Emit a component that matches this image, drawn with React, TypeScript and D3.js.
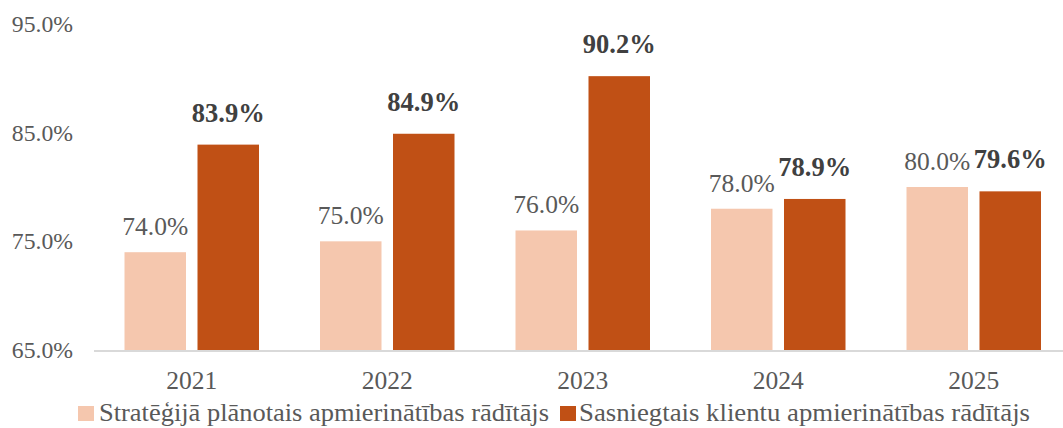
import React from "react";
import * as d3 from "d3";

const years = ["2021", "2022", "2023", "2024", "2025"];
const planned = [74.0, 75.0, 76.0, 78.0, 80.0];
const achieved = [83.9, 84.9, 90.2, 78.9, 79.6];
const yTicks = [65, 75, 85, 95];
const seriesNames = [
  "Stratēģijā plānotais apmierinātības rādītājs",
  "Sasniegtais klientu apmierinātības rādītājs",
];
const colors = ["#F5C7AE", "#C05015"];

export default function App() {
  const W = 1063, H = 428;
  const font = "Liberation Serif";
  const x = d3.scaleBand<string>().domain(years).range([94, 1071.5]).paddingInner(0).paddingOuter(0);
  const y = d3.scaleLinear().domain([65, 95]).range([350, 24]);
  const barW = 61.5;
  const gap = 11.5;
  return (
    <svg width={W} height={H} style={{ position: "absolute", left: 0, top: 0, background: "#fff" }}>
      {yTicks.map((t) => (
        <text key={t} x={73} y={y(t) + 8} textAnchor="end" style={{ fontFamily: font }} fontSize={23.7} fill="#595959">
          {t.toFixed(1)}%
        </text>
      ))}
      {years.map((yr, i) => {
        const c = (x(yr) as number) + x.bandwidth() / 2;
        const x1 = c - gap / 2 - barW;
        const x2 = c + gap / 2;
        return (
          <g key={yr}>
            <rect x={x1} y={y(planned[i])} width={barW} height={y(65) - y(planned[i])} fill={colors[0]} />
            <rect x={x2} y={y(achieved[i])} width={barW} height={y(65) - y(achieved[i])} fill={colors[1]} />
            <text x={x1 + barW / 2} y={y(planned[i]) - 17} textAnchor="middle" style={{ fontFamily: font }} fontSize={25.5} fill="#595959">
              {planned[i].toFixed(1)}%
            </text>
            <text x={x2 + barW / 2} y={y(achieved[i]) - 23} textAnchor="middle" style={{ fontFamily: font }} fontSize={26.5} fontWeight="bold" fill="#404040">
              {achieved[i].toFixed(1)}%
            </text>
            <text x={c} y={389} textAnchor="middle" style={{ fontFamily: font }} fontSize={25.5} fill="#595959">
              {yr}
            </text>
          </g>
        );
      })}
      <line x1={94} x2={W} y1={351} y2={351} stroke="#D9D9D9" strokeWidth={2} />
      <g>
        <rect x={78} y={406} width={16} height={15} fill={colors[0]} />
        <text x={99} y={421} style={{ fontFamily: font }} fontSize={26.2} fill="#595959" textLength={450} lengthAdjust="spacingAndGlyphs">{seriesNames[0]}</text>
        <rect x={560} y={406} width={16} height={15} fill={colors[1]} />
        <text x={579} y={421} style={{ fontFamily: font }} fontSize={26} fill="#595959" textLength={451} lengthAdjust="spacingAndGlyphs">{seriesNames[1]}</text>
      </g>
    </svg>
  );
}
